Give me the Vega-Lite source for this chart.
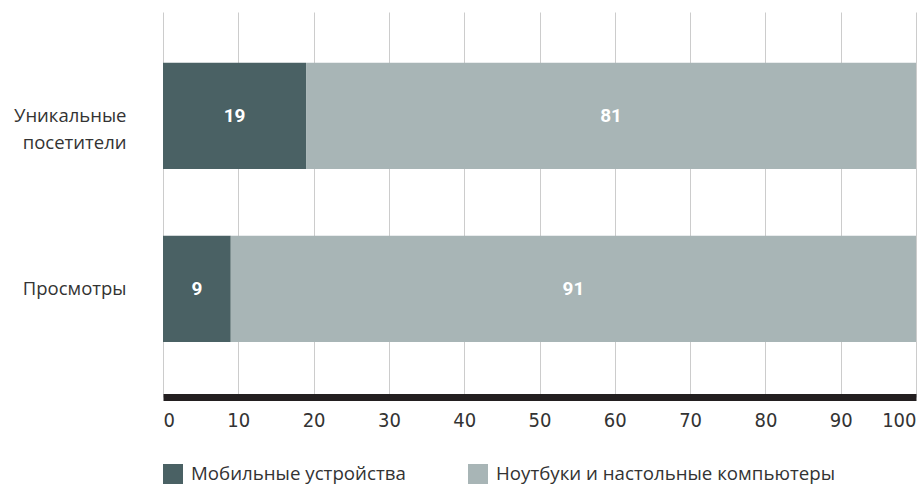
{
  "$schema": "https://vega.github.io/schema/vega-lite/v6.json",
  "width": 753,
  "height": 385,
  "autosize": {"type": "none"},
  "padding": {"left": 163, "top": 12, "right": 3, "bottom": 90},
  "background": "white",
  "config": {"view": {"stroke": null}},
  "data": {
    "values": [
      {"metric": "Уникальные посетители", "device": "Мобильные устройства", "ord": 1, "value": 19},
      {"metric": "Уникальные посетители", "device": "Ноутбуки и настольные компьютеры", "ord": 2, "value": 81},
      {"metric": "Просмотры", "device": "Мобильные устройства", "ord": 1, "value": 9},
      {"metric": "Просмотры", "device": "Ноутбуки и настольные компьютеры", "ord": 2, "value": 91}
    ]
  },
  "transform": [
    {"stack": "value", "groupby": ["metric"], "sort": [{"field": "ord"}], "as": ["x0", "x1"]},
    {"calculate": "(datum.x0 + datum.x1) / 2", "as": "xm"}
  ],
  "encoding": {
    "y": {
      "field": "metric",
      "type": "nominal",
      "sort": ["Уникальные посетители", "Просмотры"],
      "scale": {"paddingInner": 0.387, "paddingOuter": 0.306, "align": 0.48},
      "axis": {
        "title": null,
        "domain": false,
        "ticks": false,
        "tickSize": 0,
        "labelPadding": 37,
        "labelFont": "Open Sans",
        "labelFontSize": 18.5,
        "labelColor": "#333333",
        "labelLineHeight": 27,
        "labelLimit": 300,
        "labelExpr": "datum.value == 'Уникальные посетители' ? ['Уникальные', 'посетители'] : datum.label"
      }
    }
  },
  "layer": [
    {
      "mark": {"type": "bar"},
      "encoding": {
        "x": {
          "field": "x0",
          "type": "quantitative",
          "scale": {"domain": [0, 100], "nice": false},
          "axis": {
            "title": null,
            "values": [0, 10, 20, 30, 40, 50, 60, 70, 80, 90, 100],
            "grid": true,
            "gridColor": "#cccccc",
            "gridWidth": 1,
            "domain": true,
            "domainColor": "#231f20",
            "domainWidth": 7,
            "ticks": false,
            "tickSize": 0,
            "labelFlush": true,
            "labelPadding": 13,
            "labelFont": "DejaVu Sans Condensed, Roboto, sans-serif",
            "labelFontSize": 20,
            "labelColor": "#333333"
          }
        },
        "x2": {"field": "x1"},
        "color": {
          "field": "device",
          "type": "nominal",
          "scale": {
            "domain": ["Мобильные устройства", "Ноутбуки и настольные компьютеры"],
            "range": ["#4a6164", "#a8b5b6"]
          },
          "legend": {
            "title": null,
            "orient": "none",
            "legendX": 0,
            "legendY": 452,
            "direction": "horizontal",
            "columns": 2,
            "columnPadding": 62,
            "symbolType": "square",
            "symbolSize": 400,
            "symbolStrokeWidth": 0,
            "symbolOpacity": 1,
            "labelOffset": 8,
            "labelFont": "Open Sans",
            "labelFontSize": 18.7,
            "labelColor": "#333333",
            "labelLimit": 500
          }
        }
      }
    },
    {
      "mark": {"type": "text", "font": "Roboto", "fontWeight": "bold", "fontSize": 19, "color": "white", "baseline": "middle", "align": "center"},
      "encoding": {
        "x": {"field": "xm", "type": "quantitative"},
        "text": {"field": "value", "type": "quantitative"}
      }
    }
  ]
}
